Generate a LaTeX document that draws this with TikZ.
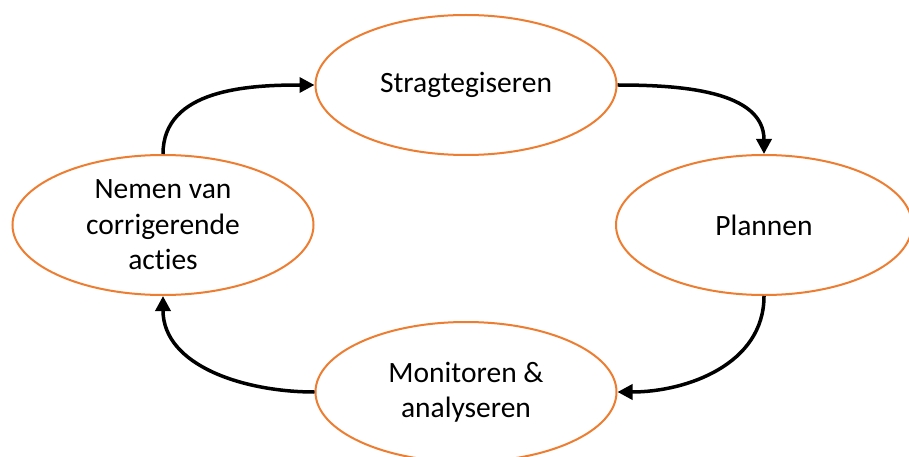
\documentclass[tikz,border=0pt]{standalone}
\usepackage{fontspec}
\setmainfont{Carlito}[Ligatures=NoCommon]
\usetikzlibrary{shapes.geometric, arrows.meta}
\definecolor{ovalorange}{RGB}{237,125,49}

\begin{document}
\begin{tikzpicture}[x=1pt, y=-1pt,
    % 椭圆节点样式
    mystep/.style={ellipse, line width=2pt, draw=ovalorange, fill=white, inner sep=0pt,
        minimum width=301pt, minimum height=140pt, align=center,
        font=\fontsize{29.5}{35.5}\selectfont},
    % 箭头连线样式
    myarrow/.style={line width=3.5pt, -{Triangle[length=15pt, width=15pt]}}
]
    \useasboundingbox (0,0) rectangle (909,457);

    % 四个椭圆
    \node [mystep] (strat) at (466, 85) {Stragtegiseren};
    \node [mystep, minimum width=296pt] (plan) at (764, 225) {Plannen};
    \node [mystep] (moni) at (466, 392) {Monitoren \&\\analyseren};
    \node [mystep] (corr) at (163, 225) {Nemen van\\corrigerende\\acties};

    % 循环箭头
    \draw [myarrow] (strat.east) to [out=0, in=90] (plan.north);
    \draw [myarrow] (plan.south) to [out=-90, in=0] (moni.east);
    \draw [myarrow] (moni.west) to [out=180, in=-90] (corr.south);
    \draw [myarrow] (corr.north) to [out=90, in=180] (strat.west);
\end{tikzpicture}
\end{document}
